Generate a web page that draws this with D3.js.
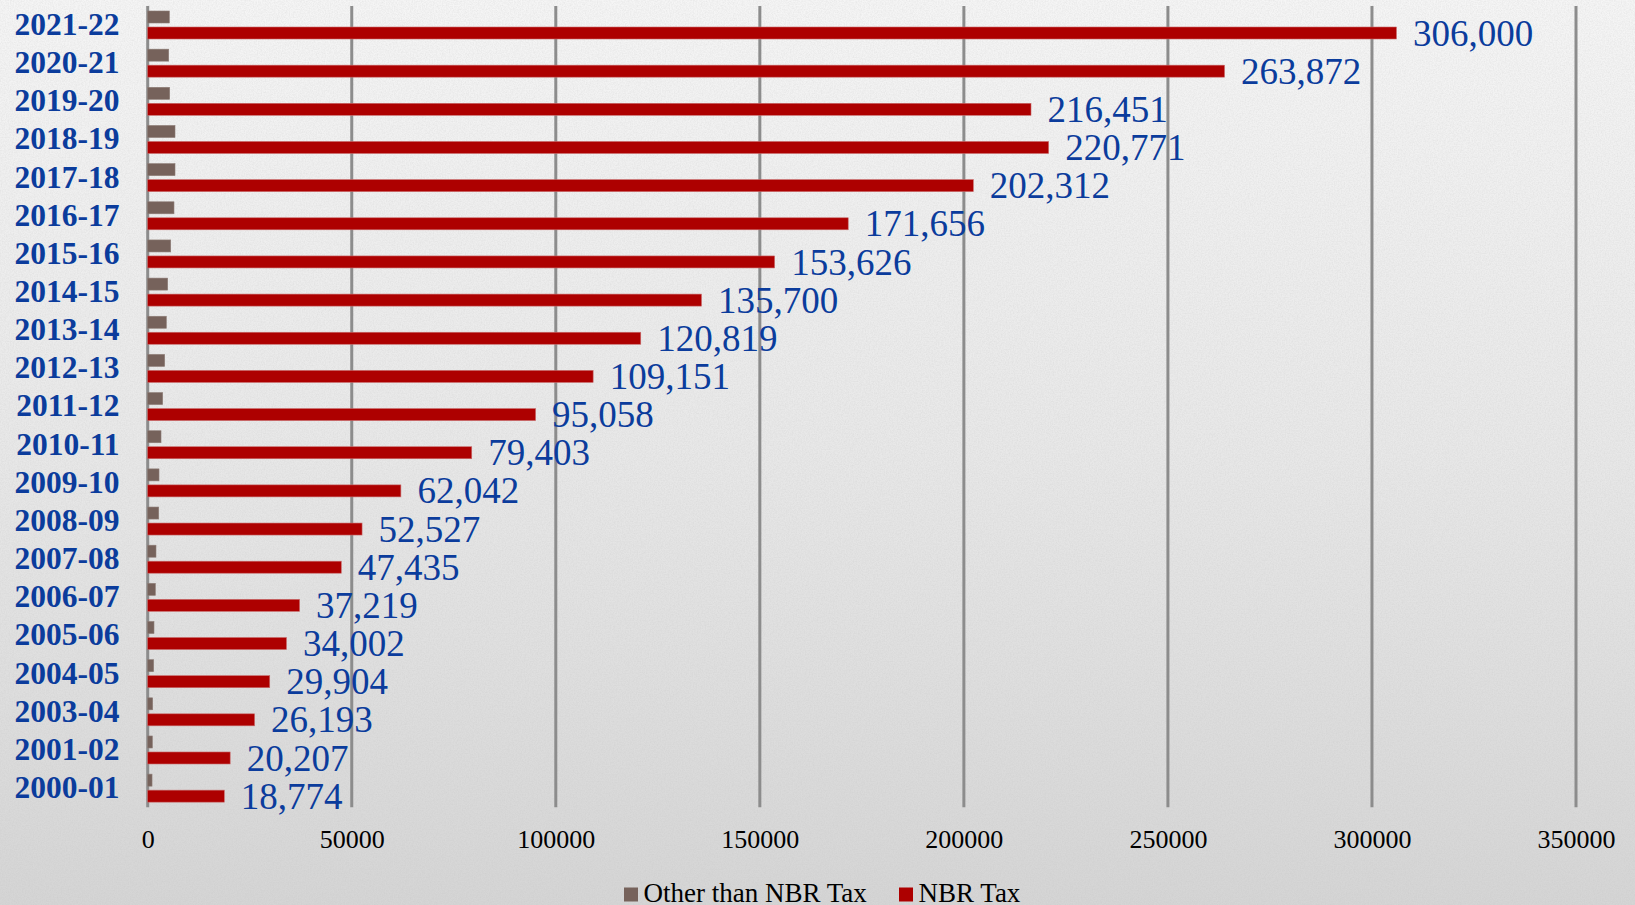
<!DOCTYPE html>
<html>
<head>
<meta charset="utf-8">
<script src="https://cdn.jsdelivr.net/npm/d3@7"></script>
<style>
  html, body { margin: 0; padding: 0; }
  body { width: 1635px; height: 905px; overflow: hidden; }
  svg { display: block; }
</style>
</head>
<body>
<svg id="chart" width="1635" height="905"></svg>
<script>
// Fiscal years, listed top to bottom
const years = ["2021-22","2020-21","2019-20","2018-19","2017-18","2016-17","2015-16",
  "2014-15","2013-14","2012-13","2011-12","2010-11","2009-10","2008-09","2007-08",
  "2006-07","2005-06","2004-05","2003-04","2001-02","2000-01"];

// NBR tax revenue (crore Tk)
const nbrTax = [306000,263872,216451,220771,202312,171656,153626,135700,120819,109151,
  95058,79403,62042,52527,47435,37219,34002,29904,26193,20207,18774];

// Tax revenue other than NBR (crore Tk)
const otherTax = [5300,5150,5390,6690,6690,6440,5640,4900,4560,4160,3670,3260,2770,2700,
  2030,1870,1540,1460,1220,1140,1060];

const seriesNames = ["Other than NBR Tax", "NBR Tax"];
const seriesColors = ["#76625b", "#ad0000"];
const xTicks = [0,50000,100000,150000,200000,250000,300000,350000];

const svg = d3.select("#chart");
const W = 1635, H = 905;

// Background: soft vertical gradient with a light paper grain
const defs = svg.append("defs");
const grad = defs.append("linearGradient").attr("id","bg").attr("x1",0).attr("y1",0).attr("x2",0).attr("y2",1);
grad.append("stop").attr("offset","0%").attr("stop-color","#f5f5f5");
grad.append("stop").attr("offset","50%").attr("stop-color","#e8e8e8");
grad.append("stop").attr("offset","100%").attr("stop-color","#d5d5d5");
const grain = defs.append("filter").attr("id","grain").attr("x",0).attr("y",0).attr("width","100%").attr("height","100%");
grain.append("feTurbulence").attr("type","fractalNoise").attr("baseFrequency",0.75).attr("numOctaves",2).attr("seed",4).attr("result","n");
grain.append("feColorMatrix").attr("in","n").attr("type","matrix")
  .attr("values","0 0 0 0 0.5  0 0 0 0 0.5  0 0 0 0 0.5  0 0 0 -1.1 0.75");
svg.append("rect").attr("width",W).attr("height",H).attr("fill","url(#bg)");
svg.append("rect").attr("width",W).attr("height",H).attr("filter","url(#grain)").attr("opacity",0.35);

// Scales
const x = d3.scaleLinear().domain([0,350000]).range([147.7,1576]);
const y = d3.scaleBand().domain(years).range([6,807.3]).padding(0);
const ySub = d3.scaleBand().domain(seriesNames).range([5,33]).paddingInner(0.25).paddingOuter(0);

// Vertical gridlines (incl. the zero line)
svg.append("g").selectAll("line").data(xTicks).join("line")
  .attr("x1", d => x(d)).attr("x2", d => x(d))
  .attr("y1", 6).attr("y2", 807.3)
  .attr("stroke","#8c8c8c").attr("stroke-width",3);

// Bars
const rows = years.map((yr,i) => ({year: yr, vals: [otherTax[i], nbrTax[i]]}));
const groups = svg.append("g").selectAll("g").data(rows).join("g")
  .attr("transform", d => `translate(0,${y(d.year)})`);
groups.selectAll("rect").data(d => d.vals.map((v,k) => ({v, k}))).join("rect")
  .attr("x", x(0))
  .attr("y", d => ySub(seriesNames[d.k]))
  .attr("width", d => x(d.v) - x(0))
  .attr("height", ySub.bandwidth())
  .attr("fill", d => seriesColors[d.k])
  .attr("stroke", d => d.k === 1 ? "#c86a6a" : "#8d7c76")
  .attr("stroke-width", 0.6);

// Value labels on the NBR bars
const fmt = d3.format(",");
groups.append("text")
  .attr("x", d => x(d.vals[1]) + 16.5)
  .attr("y", ySub("NBR Tax") + ySub.bandwidth()/2 + 12.6)
  .attr("font-family", "'Liberation Serif','Times New Roman',serif")
  .attr("font-size", 37)
  .attr("fill", "#0b3c9c")
  .text(d => fmt(d.vals[1]));

// Category labels
svg.append("g").selectAll("text").data(years).join("text")
  .attr("x", 119.5)
  .attr("y", d => y(d) + y.bandwidth()/2 + 9.8)
  .attr("text-anchor","end")
  .attr("font-family", "'Liberation Serif','Times New Roman',serif")
  .attr("font-weight","bold")
  .attr("font-size", 31.5)
  .attr("fill", "#0b3c9c")
  .text(d => d);

// Value axis
const xAxis = d3.axisBottom(x).tickValues(xTicks).tickFormat(d3.format("d")).tickSize(0);
const ax = svg.append("g").attr("transform","translate(0,807.3)").call(xAxis);
ax.select(".domain").remove();
ax.selectAll("text")
  .attr("y", 41).attr("dy", null)
  .attr("font-family", "'Liberation Serif','Times New Roman',serif")
  .attr("font-size", 26)
  .attr("fill", "#000");

// Legend
const legend = svg.append("g");
const legendItems = [{x: 624, name: seriesNames[0], c: seriesColors[0]}, {x: 899, name: seriesNames[1], c: seriesColors[1]}];
legendItems.forEach(it => {
  legend.append("rect").attr("x", it.x).attr("y", 887.5).attr("width", 14).attr("height", 14).attr("fill", it.c);
  legend.append("text").attr("x", it.x + 19.5).attr("y", 901.7)
    .attr("font-family", "'Liberation Serif','Times New Roman',serif")
    .attr("font-size", 27).attr("fill", "#000").text(it.name);
});
</script>
</body>
</html>
